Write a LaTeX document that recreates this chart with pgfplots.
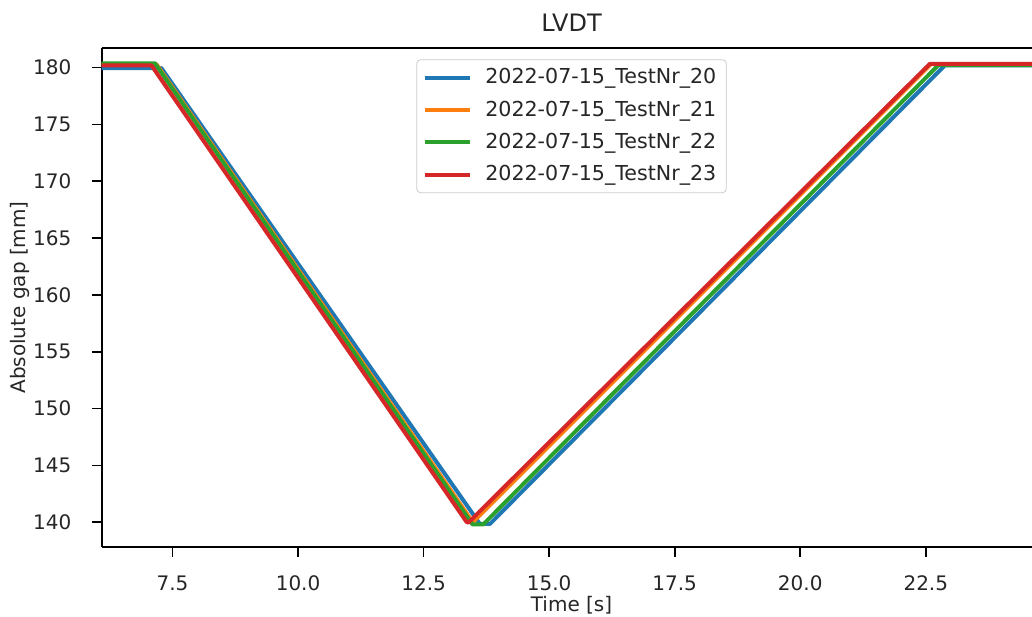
\documentclass[border=0pt]{standalone}
\usepackage{fontspec}
\setmainfont{DejaVu Sans}
\usepackage{pgfplots}
\pgfplotsset{compat=1.18}
\definecolor{c0}{HTML}{1F77B4}
\definecolor{c1}{HTML}{FF7F0E}
\definecolor{c2}{HTML}{2CA02C}
\definecolor{c3}{HTML}{D62728}
\begin{document}
\begin{tikzpicture}
\begin{axis}[
  scale only axis,
  width=469.8pt, height=249.2pt,
  xmin=6.09, xmax=24.8, ymin=137.85, ymax=181.7,
  axis x line*=box, axis y line*=left,
  xtick pos=bottom, ytick pos=left,
  xtick={7.5,10,12.5,15,17.5,20,22.5},
  ytick={140,145,150,155,160,165,170,175,180},
  tick align=outside, major tick length=5pt,
  every tick/.style={black, line width=0.8pt},
  axis line style={black, line width=0.8pt},
  /pgf/number format/assume math mode=true,
  xticklabel={\pgfmathprintnumber[fixed,fixed zerofill,precision=1]{\tick}},
  yticklabel={\pgfmathprintnumber[fixed,precision=0]{\tick}},
  tick label style={font=\fontsize{10}{12}\selectfont, text=black!85},
  xticklabel style={anchor=center, yshift=-13.3pt},
  yticklabel style={anchor=east, inner sep=0pt, xshift=-10pt},
  every axis x label/.style={at={(axis description cs:0.5,0)}, anchor=center, yshift=-29.15pt, font=\fontsize{10}{12}\selectfont, text=black!85},
  every axis y label/.style={at={(axis description cs:0,0.5)}, anchor=center, rotate=90, yshift=40.85pt, font=\fontsize{10}{12}\selectfont, text=black!85},
  every axis title/.style={at={(axis description cs:0.5,1)}, anchor=center, yshift=12.65pt, font=\fontsize{12}{14}\selectfont, text=black!85},
  xlabel={Time [s]},
  ylabel={Absolute gap [mm]},
  title={LVDT},
  legend style={at={(0.5,0.978)}, anchor=north, draw=black!20, rounded corners=2pt, fill=white, fill opacity=0.8, text opacity=1, font=\fontsize{10.3}{12}\selectfont, text=black!85, inner xsep=3pt, inner ysep=2.5pt, row sep=3pt},
  legend cell align=left,
  legend image code/.code={\draw[#1, line width=2pt] (0pt,0pt) -- (22.5pt,0pt); \path (27.3pt,0pt);},
  every axis plot/.append style={line width=2pt, line join=round},
]
\addplot[c0] coordinates {(5.9,179.95) (7.28,179.95) (13.62,139.85) (13.82,139.85) (22.88,180.2) (25,180.2)};
\addlegendentry{2022-07-15\_TestNr\_20}
\addplot[c1] coordinates {(5.9,180.3) (7.18,180.3) (13.48,140.0) (22.6,180.3) (25,180.3)};
\addlegendentry{2022-07-15\_TestNr\_21}
\addplot[c2] coordinates {(5.9,180.38) (7.15,180.38) (13.47,139.82) (13.69,139.82) (22.75,180.22) (25,180.22)};
\addlegendentry{2022-07-15\_TestNr\_22}
\addplot[c3] coordinates {(5.9,180.2) (7.08,180.2) (13.36,140.0) (13.40,140.0) (22.58,180.33) (25,180.33)};
\addlegendentry{2022-07-15\_TestNr\_23}
\end{axis}
\pgfresetboundingbox
\path[use as bounding box] (-50.85pt,-34.65pt) rectangle (465.15pt,273.35pt);
\end{tikzpicture}
\end{document}
